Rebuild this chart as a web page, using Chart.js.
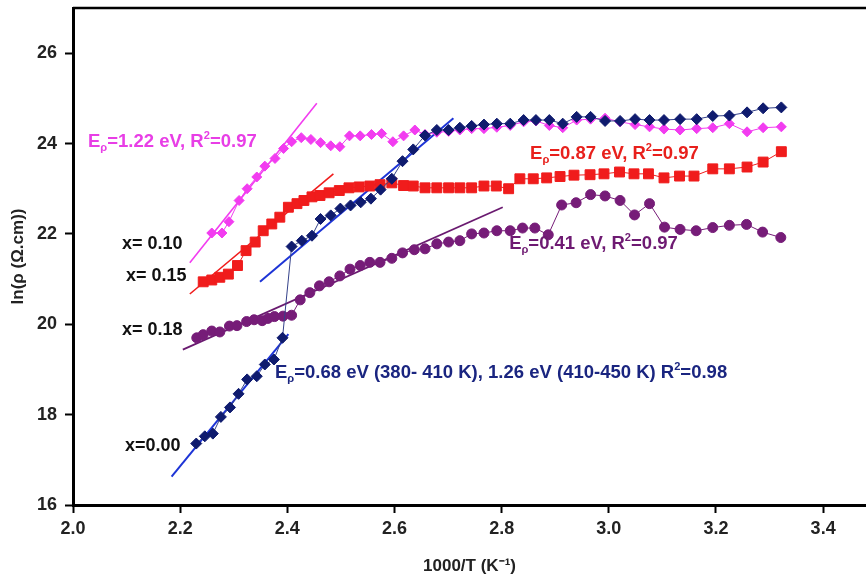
<!DOCTYPE html>
<html><head><meta charset="utf-8">
<script src="https://cdn.jsdelivr.net/npm/chart.js@4.4.1/dist/chart.umd.min.js"></script>
<style>html,body{margin:0;padding:0;background:#fff}#wrap{width:866px;height:577px;position:relative}</style>
</head><body><div id="wrap"><canvas id="c" width="866" height="577"></canvas></div>
<script>
// ---- tick labels ----
const xTickValues = [2.0, 2.2, 2.4, 2.6, 2.8, 3.0, 3.2, 3.4];
const yTickValues = [16, 18, 20, 22, 24, 26];

// ---- x = 0.00 (navy diamonds) ----
const x00_T = [2.230,2.246,2.261,2.276,2.293,2.309,2.325,2.343,2.358,2.375,2.391,2.408,2.427,2.446,2.462,2.481,2.499,2.518,2.537,2.556,2.574,2.595,2.615,2.635,2.657,2.679,2.701,2.722,2.744,2.767,2.791,2.816,2.841,2.864,2.889,2.914,2.940,2.966,2.993,3.021,3.049,3.076,3.103,3.133,3.164,3.194,3.225,3.258,3.288,3.322];
const x00_lnR = [17.36,17.52,17.58,17.95,18.16,18.46,18.78,18.85,19.11,19.22,19.70,21.72,21.85,21.96,22.33,22.41,22.56,22.63,22.70,22.78,22.98,23.22,23.61,23.87,24.18,24.30,24.30,24.35,24.39,24.42,24.44,24.44,24.52,24.52,24.52,24.44,24.59,24.59,24.50,24.50,24.54,24.52,24.52,24.54,24.54,24.61,24.62,24.69,24.78,24.80];

// ---- x = 0.10 (magenta diamonds) ----
const x10_T = [2.259,2.278,2.291,2.310,2.325,2.343,2.358,2.377,2.393,2.408,2.426,2.444,2.462,2.481,2.498,2.516,2.536,2.557,2.576,2.597,2.617,2.638,2.657,2.679,2.701,2.722,2.744,2.767,2.791,2.816,2.841,2.864,2.889,2.914,2.940,2.966,2.993,3.021,3.049,3.076,3.103,3.133,3.164,3.194,3.225,3.258,3.288,3.322];
const x10_lnR = [22.02,22.02,22.27,22.74,23.00,23.26,23.50,23.67,23.89,24.04,24.13,24.09,24.02,23.95,23.93,24.17,24.17,24.20,24.22,24.04,24.17,24.30,24.20,24.25,24.27,24.30,24.33,24.33,24.36,24.40,24.48,24.50,24.40,24.35,24.52,24.54,24.56,24.48,24.42,24.37,24.32,24.30,24.33,24.35,24.44,24.26,24.35,24.37];

// ---- x = 0.15 (red squares) ----
const x15_T = [2.243,2.259,2.274,2.290,2.307,2.323,2.340,2.355,2.371,2.386,2.402,2.418,2.431,2.446,2.461,2.478,2.497,2.515,2.534,2.554,2.573,2.595,2.617,2.635,2.657,2.679,2.701,2.722,2.744,2.767,2.790,2.813,2.834,2.859,2.884,2.909,2.935,2.965,2.991,3.020,3.047,3.074,3.103,3.132,3.159,3.194,3.225,3.258,3.288,3.322];
const x15_lnR = [20.94,20.98,21.04,21.11,21.30,21.63,21.82,22.07,22.22,22.37,22.59,22.67,22.74,22.82,22.85,22.91,22.96,23.02,23.04,23.06,23.09,23.13,23.07,23.06,23.02,23.02,23.02,23.02,23.02,23.06,23.06,23.00,23.22,23.22,23.24,23.27,23.30,23.31,23.33,23.37,23.33,23.33,23.24,23.28,23.28,23.44,23.44,23.48,23.59,23.82];

// ---- x = 0.18 (purple circles) ----
const x18_T = [2.231,2.243,2.259,2.274,2.292,2.306,2.324,2.338,2.353,2.364,2.376,2.392,2.408,2.424,2.442,2.460,2.478,2.498,2.517,2.536,2.554,2.573,2.595,2.615,2.637,2.657,2.679,2.701,2.722,2.744,2.767,2.791,2.816,2.839,2.862,2.887,2.912,2.939,2.966,2.993,3.021,3.048,3.076,3.104,3.133,3.163,3.194,3.225,3.257,3.287,3.321];
const x18_lnR = [19.70,19.77,19.85,19.83,19.96,19.97,20.06,20.10,20.08,20.13,20.17,20.18,20.20,20.54,20.70,20.85,20.94,21.07,21.22,21.30,21.37,21.37,21.46,21.58,21.65,21.67,21.78,21.82,21.85,22.00,22.02,22.07,22.07,22.13,22.13,21.98,22.64,22.69,22.87,22.84,22.74,22.42,22.67,22.15,22.10,22.07,22.14,22.19,22.21,22.04,21.92];

// ---- linear fit lines (end points) ----
const fit10_T = [2.218, 2.455];   const fit10_lnR = [21.36, 24.89];
const fit15_T = [2.218, 2.486];   const fit15_lnR = [20.67, 23.33];
const fit00a_T = [2.184, 2.402];  const fit00a_lnR = [16.63, 19.78];
const fit00b_T = [2.349, 2.710];  const fit00b_lnR = [20.94, 24.56];
const fit18_T = [2.205, 2.802];   const fit18_lnR = [19.44, 22.59];

const pts = (xs, ys) => xs.map((v, i) => ({x: v, y: ys[i]}));

const C_NAVY = '#0f1b6e', C_PINK = '#f23cf0', C_RED = '#f01c1c', C_PURPLE = '#761c78', C_BLUE = '#1d34d6';

function series(data, color, shape, r, lineColor, order) {
  return {data, showLine: true, borderColor: lineColor, borderWidth: 1,
    pointStyle: shape, pointRadius: r, pointHoverRadius: r,
    pointBackgroundColor: color, pointBorderColor: color, pointBorderWidth: 1, order};
}
function fit(data, color, w, order) {
  return {data, showLine: true, borderColor: color, borderWidth: w, pointRadius: 0, pointHoverRadius: 0, order};
}

const notes = [
  {x: 2.028, y: 24.04, color: '#e83ee6', size: 18.5, parts: [['E'], ['ρ', 'sub'], ['=1.22 eV, R'], ['2', 'sup'], ['=0.97']]},
  {x: 2.853, y: 23.76, color: '#e8201c', size: 18.5, parts: [['E'], ['ρ', 'sub'], ['=0.87 eV, R'], ['2', 'sup'], ['=0.97']]},
  {x: 2.814, y: 21.78, color: '#6e1a72', size: 18.5, parts: [['E'], ['ρ', 'sub'], ['=0.41 eV, R'], ['2', 'sup'], ['=0.97']]},
  {x: 2.377, y: 18.93, color: '#1a2580', size: 18.5, parts: [['E'], ['ρ', 'sub'], ['=0.68 eV (380- 410 K), 1.26 eV (410-450 K) R'], ['2', 'sup'], ['=0.98']]},
  {x: 2.0915, y: 21.78, color: '#111', size: 18, parts: [['x= 0.10']]},
  {x: 2.099, y: 21.07, color: '#111', size: 18, parts: [['x= 0.15']]},
  {x: 2.0915, y: 19.87, color: '#111', size: 18, parts: [['x= 0.18']]},
  {x: 2.097, y: 17.31, color: '#111', size: 18, parts: [['x=0.00']]}
];

const FONT = 'Liberation Sans, Arial, sans-serif';
const annot = {
  id: 'annot',
  afterDatasetsDraw(chart) {
    const {ctx, chartArea: a, scales: {x, y}} = chart;
    ctx.save();
    // top frame line
    ctx.strokeStyle = '#000'; ctx.lineWidth = 2.5;
    ctx.beginPath(); ctx.moveTo(a.left, a.top); ctx.lineTo(a.right, a.top); ctx.stroke();
    ctx.textBaseline = 'middle'; ctx.textAlign = 'left';
    for (const n of notes) {
      let px = x.getPixelForValue(n.x);
      const py = y.getPixelForValue(n.y);
      ctx.fillStyle = n.color;
      for (const [t, kind] of n.parts) {
        let s = n.size, dy = 0;
        if (kind === 'sub') { s = n.size * 0.6; dy = n.size * 0.32; }
        if (kind === 'sup') { s = n.size * 0.6; dy = -n.size * 0.33; }
        ctx.font = 'bold ' + s + 'px ' + FONT;
        ctx.fillText(t, px, py + dy);
        px += ctx.measureText(t).width;
      }
    }
    ctx.restore();
  }
};

new Chart(document.getElementById('c'), {
  type: 'scatter',
  data: {datasets: [
    series(pts(x00_T, x00_lnR), C_NAVY, 'rectRot', 5.5, '#34418a', 0),
    series(pts(x10_T, x10_lnR), C_PINK, 'rectRot', 5, C_PINK, 3),
    series(pts(x15_T, x15_lnR), C_RED, 'rect', 7, C_RED, 2),
    series(pts(x18_T, x18_lnR), C_PURPLE, 'circle', 5, C_PURPLE, 4),
    fit(pts(fit10_T, fit10_lnR), C_PINK, 1.6, 5),
    fit(pts(fit15_T, fit15_lnR), C_RED, 1.6, 5),
    fit(pts(fit00a_T, fit00a_lnR), C_BLUE, 2, 5),
    fit(pts(fit00b_T, fit00b_lnR), C_BLUE, 2, 5),
    fit(pts(fit18_T, fit18_lnR), '#6a1a70', 1.8, 5)
  ]},
  options: {
    responsive: false, animation: false, devicePixelRatio: 1,
    layout: {autoPadding: false, padding: {top: 8, right: 0, left: 0, bottom: 0}},
    plugins: {legend: {display: false}, tooltip: {enabled: false}},
    scales: {
      x: {type: 'linear', min: 2.0, max: 3.48,
        afterFit: s => { s.height = 72; s.paddingRight = 0; s.paddingLeft = 0; },
        afterBuildTicks: s => { s.ticks = xTickValues.map(v => ({value: v})); },
        grid: {display: true, drawOnChartArea: false, tickLength: 8, tickWidth: 2, color: '#000'},
        border: {display: true, color: '#000', width: 3},
        ticks: {padding: 5, color: '#222', font: {family: FONT, size: 18, weight: 'bold'}, callback: v => Number(v).toFixed(1)},
        title: {display: true, text: '1000/T (K⁻¹)', color: '#222', font: {family: FONT, size: 17, weight: 'bold'}, padding: {top: 0, bottom: 0}}
      },
      y: {type: 'linear', min: 16, max: 27,
        afterFit: s => { s.width = 73; s.paddingTop = 0; s.paddingBottom = 0; },
        afterBuildTicks: s => { s.ticks = yTickValues.map(v => ({value: v})); },
        grid: {display: true, drawOnChartArea: false, tickLength: 8, tickWidth: 2, color: '#000'},
        border: {display: true, color: '#000', width: 3},
        ticks: {padding: 8, color: '#222', font: {family: FONT, size: 18, weight: 'bold'}, callback: v => String(v)},
        title: {display: true, text: 'ln(ρ (Ω.cm))', color: '#222', font: {family: FONT, size: 17, weight: 'bold'}, padding: {top: 8, bottom: 0}}
      }
    }
  },
  plugins: [annot]
});
</script>
</body></html>
